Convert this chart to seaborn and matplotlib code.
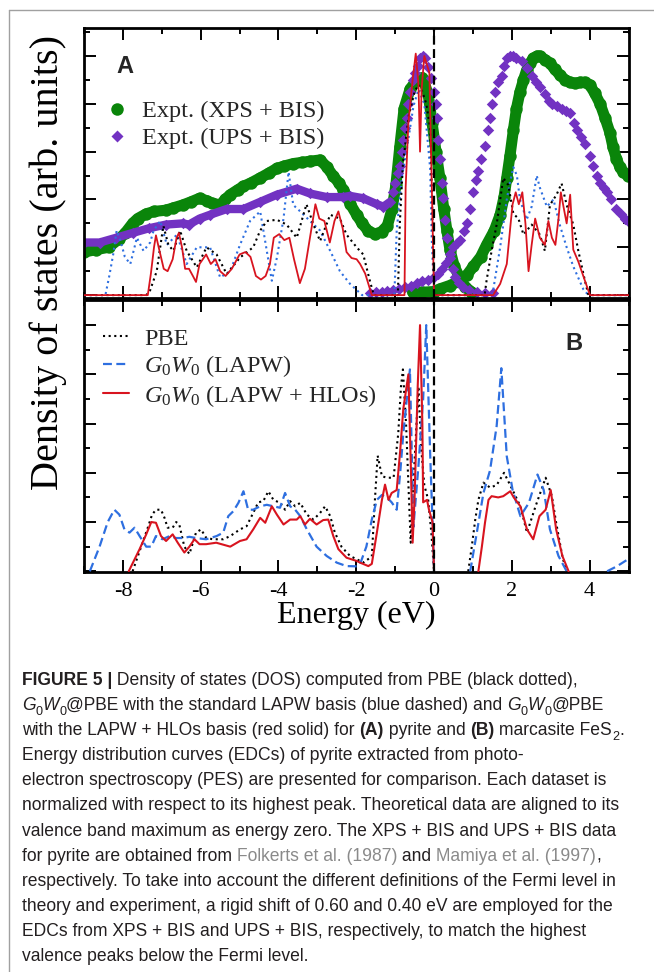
import numpy as np
import pandas as pd
import matplotlib
matplotlib.use("Agg")
import matplotlib.pyplot as plt
import seaborn as sns
from matplotlib.lines import Line2D
from matplotlib.ticker import MultipleLocator

sns.set_theme(style="ticks")
plt.rcParams["font.family"] = ["Liberation Serif", "DejaVu Serif"]
plt.rcParams["mathtext.fontset"] = "custom"
plt.rcParams["mathtext.rm"] = "Liberation Serif"
plt.rcParams["mathtext.it"] = "Liberation Serif:italic"
plt.rcParams["mathtext.bf"] = "Liberation Serif:bold"
plt.rcParams["axes.unicode_minus"] = False

# ---------------- data (energy in eV, normalized DOS) ----------------
# Panel A: experiment
xps_green = [(-9.0, 0.18), (-8.7, 0.19), (-8.37, 0.20), (-8.1, 0.235), (-7.94, 0.26), (-7.75, 0.30),
             (-7.62, 0.32), (-7.4, 0.34), (-7.19, 0.35), (-6.9, 0.355), (-6.7, 0.365), (-6.46, 0.377),
             (-6.25, 0.39), (-6.03, 0.405), (-5.85, 0.395), (-5.72, 0.385), (-5.5, 0.377), (-5.37, 0.40),
             (-5.24, 0.42), (-5.05, 0.44), (-4.9, 0.455), (-4.7, 0.47), (-4.47, 0.49), (-4.25, 0.51),
             (-4.04, 0.53), (-3.85, 0.54), (-3.62, 0.55), (-3.4, 0.555), (-3.19, 0.56), (-2.93, 0.565),
             (-2.76, 0.537), (-2.6, 0.5), (-2.45, 0.47), (-2.33, 0.44), (-2.15, 0.38), (-1.99, 0.336),
             (-1.85, 0.30), (-1.7, 0.27), (-1.52, 0.255), (-1.35, 0.265), (-1.2, 0.29), (-1.08, 0.36),
             (-0.98, 0.46), (-0.88, 0.62), (-0.77, 0.78), (-0.62, 0.86), (-0.45, 0.9), (-0.3, 0.91),
             (-0.15, 0.84), (-0.05, 0.72), (0.05, 0.6), (0.15, 0.49), (0.25, 0.36), (0.33, 0.27),
             (0.41, 0.19), (0.52, 0.12), (0.67, 0.07), (0.8, 0.035), (0.95, 0.015)]
bis_green = [(-0.55, 0.012), (-0.3, 0.012), (0.0, 0.015), (0.15, 0.026), (0.4, 0.04), (0.67, 0.06),
             (0.85, 0.085), (1.01, 0.12), (1.2, 0.16), (1.35, 0.21), (1.55, 0.27), (1.7, 0.336),
             (1.8, 0.41), (1.87, 0.49), (1.95, 0.58), (2.04, 0.69), (2.12, 0.78), (2.21, 0.85),
             (2.3, 0.9), (2.38, 0.94), (2.47, 0.97), (2.55, 0.99), (2.65, 1.0), (2.72, 1.0),
             (2.85, 0.985), (2.98, 0.97), (3.1, 0.945), (3.24, 0.92), (3.37, 0.9), (3.5, 0.89),
             (3.62, 0.885), (3.75, 0.89), (3.88, 0.89), (4.0, 0.88), (4.13, 0.845), (4.27, 0.80),
             (4.4, 0.74), (4.52, 0.68), (4.6, 0.62), (4.69, 0.57), (4.78, 0.535), (4.86, 0.515),
             (4.99, 0.50)]
ups_purple_dense = [(-9.0, 0.22), (-8.6, 0.22), (-8.17, 0.24), (-7.75, 0.26), (-7.32, 0.28),
                    (-6.89, 0.295), (-6.46, 0.30), (-6.3, 0.295), (-6.03, 0.32), (-5.76, 0.336),
                    (-5.33, 0.36), (-4.9, 0.36), (-4.47, 0.39), (-4.04, 0.42), (-3.53, 0.445),
                    (-3.19, 0.425), (-2.76, 0.41), (-2.33, 0.41), (-2.16, 0.415), (-1.82, 0.405),
                    (-1.47, 0.38), (-1.3, 0.37), (-1.13, 0.39)]
ups_purple_peak = [(-1.05, 0.43), (-1.0, 0.47), (-0.93, 0.51), (-0.87, 0.54), (-0.82, 0.6),
                   (-0.79, 0.65), (-0.74, 0.7), (-0.7, 0.74), (-0.66, 0.8), (-0.62, 0.85),
                   (-0.55, 0.9), (-0.49, 0.93), (-0.42, 0.96), (-0.35, 0.99), (-0.28, 1.0),
                   (-0.22, 0.99), (-0.15, 0.955), (-0.08, 0.91), (0.0, 0.85), (0.04, 0.8),
                   (0.08, 0.74), (0.11, 0.65), (0.15, 0.57), (0.2, 0.47), (0.24, 0.405),
                   (0.28, 0.315), (0.33, 0.24), (0.41, 0.157), (0.48, 0.11), (0.54, 0.074),
                   (0.64, 0.05), (0.75, 0.033), (0.9, 0.02), (1.1, 0.012), (1.3, 0.01), (1.52, 0.01)]
bis_purple = [(-1.65, 0.01), (-1.5, 0.012), (-1.35, 0.015), (-1.2, 0.018), (-1.05, 0.022),
              (-0.9, 0.026), (-0.75, 0.032), (-0.6, 0.04), (-0.45, 0.05), (-0.3, 0.058),
              (-0.15, 0.065), (0.0, 0.074), (0.1, 0.09), (0.2, 0.11), (0.3, 0.135), (0.41, 0.17),
              (0.5, 0.2), (0.6, 0.22), (0.67, 0.23), (0.76, 0.27), (0.84, 0.30), (0.92, 0.36),
              (1.0, 0.43), (1.07, 0.48), (1.14, 0.52), (1.22, 0.57), (1.31, 0.625), (1.38, 0.69),
              (1.44, 0.74), (1.5, 0.8), (1.57, 0.85), (1.65, 0.89), (1.74, 0.915), (1.8, 0.96),
              (1.87, 0.99), (1.95, 1.0), (2.04, 1.0), (2.12, 0.99), (2.25, 0.98), (2.38, 0.95),
              (2.51, 0.915), (2.62, 0.89), (2.72, 0.87), (2.85, 0.84), (2.95, 0.81), (3.03, 0.80),
              (3.15, 0.79), (3.28, 0.78), (3.4, 0.77), (3.5, 0.76), (3.6, 0.72), (3.67, 0.69),
              (3.78, 0.66), (3.88, 0.63), (4.0, 0.58), (4.1, 0.54), (4.2, 0.5), (4.27, 0.47),
              (4.36, 0.45), (4.44, 0.43), (4.55, 0.40), (4.69, 0.36), (4.8, 0.34), (4.9, 0.32),
              (4.99, 0.31)]

# Panel A: theory
a_pbe = [(-9.0, 0.0), (-7.4, 0.0), (-7.3, 0.02), (-7.13, 0.1), (-6.96, 0.29), (-6.83, 0.21),
         (-6.7, 0.185), (-6.53, 0.27), (-6.36, 0.185), (-6.1, 0.116), (-5.85, 0.2), (-5.59, 0.17),
         (-5.33, 0.088), (-4.99, 0.157), (-4.65, 0.2), (-4.47, 0.27), (-4.3, 0.31), (-4.04, 0.315),
         (-3.79, 0.295), (-3.53, 0.24), (-3.28, 0.38), (-3.1, 0.295), (-2.93, 0.226), (-2.67, 0.336),
         (-2.42, 0.32), (-2.25, 0.253), (-1.99, 0.2), (-1.82, 0.17), (-1.65, 0.06), (-1.55, 0.0),
         (-0.93, 0.0), (-0.88, 0.3), (-0.8, 0.55), (-0.65, 0.75), (-0.5, 0.85), (-0.4, 0.88),
         (-0.3, 0.85), (-0.2, 0.8), (-0.1, 0.7), (-0.05, 0.4), (0.0, 0.0), (1.3, 0.0), (1.35, 0.06),
         (1.48, 0.185), (1.61, 0.295), (1.78, 0.49), (1.91, 0.46), (2.04, 0.34), (2.17, 0.32),
         (2.3, 0.253), (2.51, 0.295), (2.72, 0.253), (2.85, 0.185), (2.98, 0.377), (3.15, 0.42),
         (3.28, 0.467), (3.41, 0.377), (3.58, 0.295), (3.71, 0.185), (3.88, 0.06), (3.97, 0.0),
         (5.0, 0.0)]
a_lapw = [(-9.0, 0.0), (-8.45, 0.0), (-8.35, 0.08), (-8.25, 0.17), (-8.16, 0.27), (-8.05, 0.22),
          (-7.95, 0.16), (-7.81, 0.13), (-7.64, 0.24), (-7.47, 0.185), (-7.3, 0.22), (-7.21, 0.27),
          (-7.04, 0.31), (-6.87, 0.21), (-6.61, 0.253), (-6.36, 0.13), (-6.1, 0.2), (-5.76, 0.2),
          (-5.5, 0.074), (-5.24, 0.1), (-4.99, 0.21), (-4.73, 0.31), (-4.47, 0.35), (-4.3, 0.185),
          (-4.17, 0.06), (-4.04, 0.157), (-3.87, 0.32), (-3.74, 0.515), (-3.62, 0.377), (-3.44, 0.35),
          (-3.19, 0.31), (-2.93, 0.27), (-2.67, 0.185), (-2.42, 0.1), (-2.16, 0.047), (-1.85, 0.0),
          (-1.02, 0.0), (-0.96, 0.27), (-0.83, 0.49), (-0.7, 0.61), (-0.53, 0.79), (-0.4, 0.86),
          (-0.25, 0.8), (-0.1, 0.53), (-0.06, 0.24), (0.0, 0.0), (1.5, 0.0), (1.7, 0.2), (1.87, 0.4),
          (1.95, 0.47), (2.04, 0.535), (2.13, 0.5), (2.21, 0.4), (2.38, 0.315), (2.51, 0.37),
          (2.64, 0.5), (2.72, 0.45), (2.9, 0.37), (3.07, 0.4), (3.24, 0.29), (3.41, 0.2),
          (3.58, 0.12), (3.84, 0.024), (3.97, 0.0), (5.0, 0.0)]
a_hlo = [(-9.0, 0.0), (-7.36, 0.0), (-7.28, 0.09), (-7.2, 0.2), (-7.15, 0.25), (-7.08, 0.2),
         (-6.95, 0.11), (-6.85, 0.1), (-6.72, 0.15), (-6.62, 0.24), (-6.56, 0.26), (-6.48, 0.2),
         (-6.4, 0.11), (-6.3, 0.11), (-6.2, 0.08), (-6.12, 0.055), (-6.03, 0.13), (-5.86, 0.17),
         (-5.74, 0.13), (-5.62, 0.15), (-5.5, 0.1), (-5.36, 0.08), (-5.2, 0.11), (-5.0, 0.17),
         (-4.85, 0.18), (-4.72, 0.16), (-4.58, 0.08), (-4.45, 0.065), (-4.33, 0.08), (-4.22, 0.13),
         (-4.12, 0.24), (-3.98, 0.255), (-3.85, 0.23), (-3.72, 0.24), (-3.6, 0.15), (-3.45, 0.05),
         (-3.32, 0.11), (-3.18, 0.25), (-3.05, 0.38), (-2.95, 0.32), (-2.82, 0.31), (-2.68, 0.22),
         (-2.56, 0.31), (-2.46, 0.35), (-2.35, 0.28), (-2.25, 0.18), (-2.12, 0.155), (-1.99, 0.15),
         (-1.9, 0.13), (-1.77, 0.09), (-1.6, 0.0), (-0.76, 0.0), (-0.73, 0.45), (-0.66, 0.72),
         (-0.55, 0.9), (-0.47, 1.01), (-0.4, 0.88), (-0.36, 0.6), (-0.32, 0.86), (-0.25, 1.0),
         (-0.12, 0.93), (-0.05, 0.4), (0.0, 0.0), (1.52, 0.0), (1.7, 0.047), (1.87, 0.13),
         (1.97, 0.3), (2.02, 0.38), (2.1, 0.43), (2.18, 0.38), (2.27, 0.43), (2.35, 0.3),
         (2.43, 0.1), (2.51, 0.21), (2.6, 0.32), (2.72, 0.24), (2.85, 0.21), (2.94, 0.31),
         (3.03, 0.24), (3.12, 0.21), (3.2, 0.32), (3.26, 0.43), (3.34, 0.36), (3.41, 0.3),
         (3.5, 0.42), (3.58, 0.19), (3.71, 0.14), (3.88, 0.06), (4.01, 0.0), (5.0, 0.0)]

# Panel B: theory (valence / conduction pieces)
b_pbe_val = [(-7.75, 0.0), (-7.53, 0.1), (-7.36, 0.177), (-7.25, 0.23), (-7.15, 0.25), (-7.02, 0.25),
             (-6.93, 0.217), (-6.85, 0.177), (-6.72, 0.177), (-6.63, 0.2), (-6.55, 0.19), (-6.42, 0.1),
             (-6.29, 0.07), (-6.12, 0.157), (-5.99, 0.17), (-5.86, 0.136), (-5.69, 0.13), (-5.42, 0.13),
             (-5.24, 0.143), (-4.99, 0.17), (-4.82, 0.183), (-4.65, 0.237), (-4.52, 0.28), (-4.39, 0.285),
             (-4.26, 0.325), (-4.13, 0.29), (-3.96, 0.278), (-3.83, 0.25), (-3.7, 0.285), (-3.57, 0.264),
             (-3.44, 0.278), (-3.27, 0.23), (-3.1, 0.21), (-2.93, 0.237), (-2.8, 0.264), (-2.67, 0.224),
             (-2.55, 0.157), (-2.38, 0.1), (-2.16, 0.062), (-1.99, 0.049), (-1.82, 0.035), (-1.6, 0.06),
             (-1.52, 0.29), (-1.45, 0.47), (-1.34, 0.386), (-1.21, 0.38), (-1.04, 0.38), (-0.92, 0.56),
             (-0.85, 0.75), (-0.8, 0.82), (-0.72, 0.6), (-0.6, 0.116), (-0.5, 0.45), (-0.4, 0.75),
             (-0.33, 0.5), (-0.25, 0.35), (-0.15, 0.29), (-0.07, 0.157), (0.0, 0.0)]
b_pbe_con = [(0.88, 0.0), (0.97, 0.1), (1.06, 0.21), (1.14, 0.29), (1.27, 0.36), (1.44, 0.34),
             (1.61, 0.35), (1.8, 0.4), (2.02, 0.33), (2.22, 0.264), (2.39, 0.157), (2.61, 0.264),
             (2.87, 0.38), (3.03, 0.305), (3.14, 0.197), (3.3, 0.06), (3.4, 0.0)]
b_lapw_val = [(-8.85, 0.0), (-8.6, 0.1), (-8.39, 0.2), (-8.22, 0.25), (-8.09, 0.23), (-7.96, 0.17),
              (-7.83, 0.157), (-7.7, 0.177), (-7.57, 0.143), (-7.4, 0.1), (-7.27, 0.1), (-7.15, 0.143),
              (-6.98, 0.13), (-6.8, 0.143), (-6.63, 0.135), (-6.46, 0.135), (-6.29, 0.14), (-6.12, 0.135),
              (-5.86, 0.13), (-5.59, 0.143), (-5.42, 0.157), (-5.29, 0.224), (-5.16, 0.244),
              (-5.03, 0.278), (-4.9, 0.325), (-4.78, 0.25), (-4.65, 0.25), (-4.47, 0.264), (-4.3, 0.27),
              (-4.13, 0.264), (-3.96, 0.258), (-3.83, 0.318), (-3.7, 0.264), (-3.57, 0.25),
              (-3.44, 0.224), (-3.27, 0.17), (-3.02, 0.1), (-2.76, 0.062), (-2.5, 0.035), (-2.25, 0.021),
              (-1.99, 0.02), (-1.9, 0.03), (-1.74, 0.1), (-1.6, 0.21), (-1.47, 0.29), (-1.34, 0.31),
              (-1.21, 0.3), (-1.09, 0.28), (-0.96, 0.25), (-0.87, 0.4), (-0.79, 0.56), (-0.7, 0.7),
              (-0.62, 0.82), (-0.53, 0.18), (-0.4, 0.43), (-0.28, 0.7), (-0.2, 1.0), (-0.1, 0.48),
              (-0.03, 0.157), (0.0, 0.0)]
b_lapw_con = [(0.93, 0.0), (1.1, 0.157), (1.27, 0.318), (1.44, 0.41), (1.61, 0.59), (1.73, 0.825),
              (1.87, 0.467), (2.02, 0.33), (2.22, 0.224), (2.44, 0.278), (2.66, 0.393), (2.82, 0.33),
              (2.98, 0.17), (3.2, 0.062), (3.41, 0.0)]
b_lapw_high = [(4.45, 0.0), (4.7, 0.02), (5.0, 0.05)]
b_hlo_val = [(-7.85, 0.0), (-7.57, 0.09), (-7.4, 0.15), (-7.27, 0.2), (-7.15, 0.197), (-7.02, 0.143),
             (-6.89, 0.123), (-6.72, 0.15), (-6.59, 0.116), (-6.42, 0.076), (-6.29, 0.1), (-6.16, 0.13),
             (-6.03, 0.11), (-5.86, 0.11), (-5.6, 0.116), (-5.24, 0.1), (-4.99, 0.123), (-4.82, 0.13),
             (-4.65, 0.17), (-4.47, 0.217), (-4.34, 0.197), (-4.17, 0.264), (-4.04, 0.23), (-3.87, 0.19),
             (-3.7, 0.21), (-3.53, 0.21), (-3.44, 0.224), (-3.32, 0.19), (-3.19, 0.213), (-3.02, 0.19),
             (-2.85, 0.208), (-2.72, 0.21), (-2.59, 0.143), (-2.46, 0.09), (-2.25, 0.055), (-1.99, 0.042),
             (-1.9, 0.035), (-1.69, 0.021), (-1.6, 0.03), (-1.47, 0.157), (-1.34, 0.29), (-1.26, 0.352),
             (-1.17, 0.29), (-1.09, 0.318), (-0.96, 0.33), (-0.87, 0.49), (-0.79, 0.66), (-0.66, 0.80),
             (-0.6, 0.45), (-0.55, 0.116), (-0.5, 0.3), (-0.42, 0.75), (-0.36, 1.0), (-0.3, 0.6),
             (-0.28, 0.28), (-0.18, 0.29), (-0.13, 0.25), (-0.04, 0.2), (0.0, 0.0)]
b_hlo_con = [(1.14, 0.0), (1.23, 0.1), (1.31, 0.197), (1.4, 0.29), (1.48, 0.305), (1.65, 0.3),
             (1.78, 0.305), (1.96, 0.325), (2.05, 0.30), (2.22, 0.264), (2.39, 0.17), (2.55, 0.13),
             (2.71, 0.224), (2.87, 0.25), (3.0, 0.33), (3.14, 0.17), (3.3, 0.062), (3.46, 0.0)]

xtick_values = [-8, -6, -4, -2, 0, 2, 4]
legend_a = ["Expt. (XPS + BIS)", "Expt. (UPS + BIS)"]
legend_b = ["PBE", r"$G_0W_0$ (LAPW)", r"$G_0W_0$ (LAPW + HLOs)"]

# ---------------- styles ----------------
GREEN = "#0a850a"
PURPLE = "#7232c2"
RED = "#d8141f"
BLUE = "#2e6fe0"
DOT = (0, (1, 1.7))
DASH = (0, (4, 2))

W, H = 654, 972
fig = plt.figure(figsize=(W / 100, H / 100), dpi=100)
fig.patch.set_facecolor("white")


def fx(px):
    return px / W


def fy(py):
    return 1 - py / H


axA = fig.add_axes([fx(84), fy(297.5), 544.5 / W, 269 / H])
axB = fig.add_axes([fx(84), fy(572), 544.5 / W, 271.5 / H])


def to_df(*segs):
    frames = []
    for i, seg in enumerate(segs):
        e, v = zip(*seg)
        frames.append(pd.DataFrame({"E": e, "v": v, "seg": i}))
    return pd.concat(frames, ignore_index=True)


def draw_curve(ax, segs, **kw):
    sns.lineplot(data=to_df(*segs), x="E", y="v", units="seg", estimator=None,
                 sort=False, ax=ax, legend=False, **kw)


def draw_points(ax, seg, **kw):
    d = to_df(seg)
    sns.scatterplot(data=d, x="E", y="v", ax=ax, legend=False, linewidth=0, **kw)


# ---- panel A ----
draw_curve(axA, [xps_green], color=GREEN, lw=8, solid_capstyle="round", zorder=2)
draw_points(axA, xps_green, color=GREEN, marker="o", s=80, zorder=2.1)
draw_curve(axA, [bis_green], color=GREEN, lw=8, solid_capstyle="round", zorder=2)
draw_points(axA, bis_green, color=GREEN, marker="o", s=80, zorder=2.1)
draw_curve(axA, [ups_purple_dense], color=PURPLE, lw=6, solid_capstyle="round", zorder=2.2)
draw_points(axA, ups_purple_dense, color=PURPLE, marker="D", s=34, zorder=2.3)
draw_points(axA, ups_purple_peak, color=PURPLE, marker="D", s=34, zorder=2.3)
draw_points(axA, bis_purple, color=PURPLE, marker="D", s=34, zorder=2.3)

draw_curve(axA, [a_lapw], color=BLUE, lw=1.5, linestyle=DOT, zorder=3)
draw_curve(axA, [a_pbe], color="black", lw=1.5, linestyle=DOT, zorder=3.1)
draw_curve(axA, [a_hlo], color=RED, lw=1.3, zorder=3.2)

# ---- panel B ----
draw_curve(axB, [b_pbe_val, b_pbe_con], color="black", lw=1.5, linestyle=DOT, zorder=3)
draw_curve(axB, [b_lapw_val, b_lapw_con, b_lapw_high], color=BLUE, lw=1.6, linestyle=DASH, zorder=3.1)
draw_curve(axB, [b_hlo_val, b_hlo_con], color=RED, lw=1.5, zorder=3.2)

for ax, ylim in ((axA, (-0.01, 1.115)), (axB, (-0.003, 1.10))):
    ax.axvline(0, color="black", lw=1.6, linestyle=DASH, zorder=4)
    ax.set_xlim(-9, 5)
    ax.set_ylim(*ylim)
    ax.xaxis.set_major_locator(MultipleLocator(2))
    ax.xaxis.set_minor_locator(MultipleLocator(1))
    ax.yaxis.set_major_locator(MultipleLocator(0.2))
    ax.yaxis.set_minor_locator(MultipleLocator(0.1))
    ax.tick_params(which="both", direction="in", top=True, right=True, left=True, bottom=True,
                   width=1.4, color="black", labelleft=False)
    ax.tick_params(which="major", length=8.5)
    ax.tick_params(which="minor", length=4.5)
    for sp in ax.spines.values():
        sp.set_linewidth(2.0)
        sp.set_color("black")
    ax.set_xlabel("")
    ax.set_ylabel("")
    ax.set_facecolor("white")

axA.tick_params(labelbottom=False)
axB.set_xticks(xtick_values)
axB.set_xticklabels([str(v) for v in xtick_values])
axB.tick_params(axis="x", labelsize=16, pad=7, labelcolor="black")
axB.set_xlabel("Energy (eV)", fontsize=23, color="black")
axB.xaxis.label.set_va("baseline")
axB.xaxis.set_label_coords(0.5, -(623 - 572) / 271.5)

fig.text(fx(48), fy(262), "Density of states (arb. units)", rotation=90,
         ha="center", va="center", fontsize=29, color="black")

# panel letters
axA.text((125 - 84) / 544.5, (297.5 - 73.3) / 269, "A", transform=axA.transAxes,
         ha="center", va="baseline", fontsize=17, fontweight="bold",
         family=["Liberation Sans", "DejaVu Sans"])
axB.text((574 - 84) / 544.5, (572 - 350) / 271.5, "B", transform=axB.transAxes,
         ha="center", va="baseline", fontsize=17, fontweight="bold",
         family=["Liberation Sans", "DejaVu Sans"])

# legends
ha = [Line2D([], [], ls="", marker="o", ms=9, color=GREEN, mec="none"),
      Line2D([], [], ls="", marker="D", ms=6.3, color=PURPLE, mec="none")]
axA.legend(ha, legend_a, loc="upper left", bbox_to_anchor=(0.04, 0.733), frameon=False,
           fontsize=17.5, handlelength=0.9, handletextpad=0.58, borderpad=0, borderaxespad=0,
           labelspacing=0.2)
hb = [Line2D([], [], color="black", lw=1.5, linestyle=DOT),
      Line2D([], [], color=BLUE, lw=1.6, linestyle=DASH),
      Line2D([], [], color=RED, lw=1.5)]
axB.legend(hb, legend_b, loc="upper left", bbox_to_anchor=(0.035, 0.9), frameon=False,
           fontsize=17.5, handlelength=1.07, handletextpad=0.62, borderpad=0, borderaxespad=0,
           labelspacing=0.15)

# outer frame lines
fig.add_artist(Line2D([fx(9), 1.0], [fy(10), fy(10)], color="#a0a0a0", lw=1.0))
fig.add_artist(Line2D([fx(9), fx(9)], [fy(10), 0.0], color="#a0a0a0", lw=1.0))

# ---------------- caption ----------------
cap_lines = [
    [("FIGURE 5 |", "b"), (" Density of states (DOS) computed from PBE (black dotted),", "n")],
    [("G", "i"), ("0", "s"), ("W", "i"), ("0", "s"), ("@PBE with the standard LAPW basis (blue dashed) and ", "n"),
     ("G", "i"), ("0", "s"), ("W", "i"), ("0", "s"), ("@PBE", "n")],
    [("with the LAPW + HLOs basis (red solid) for ", "n"), ("(A)", "b"), (" pyrite and ", "n"),
     ("(B)", "b"), (" marcasite FeS", "n"), ("2", "s"), (".", "n")],
    [("Energy distribution curves (EDCs) of pyrite extracted from photo-", "n")],
    [("electron spectroscopy (PES) are presented for comparison. Each dataset is", "n")],
    [("normalized with respect to its highest peak. Theoretical data are aligned to its", "n")],
    [("valence band maximum as energy zero. The XPS + BIS and UPS + BIS data", "n")],
    [("for pyrite are obtained from ", "n"), ("Folkerts et al. (1987)", "g"), (" and ", "n"),
     ("Mamiya et al. (1997)", "g"), (",", "n")],
    [("respectively. To take into account the different definitions of the Fermi level in", "n")],
    [("theory and experiment, a rigid shift of 0.60 and 0.40 eV are employed for the", "n")],
    [("EDCs from XPS + BIS and UPS + BIS, respectively, to match the highest", "n")],
    [("valence peaks below the Fermi level.", "n")],
]

renderer = fig.canvas.get_renderer()
CAP_FAMILY = ["Liberation Sans", "DejaVu Sans"]
TXT = "#231f20"


def style_props(key, fs):
    p = dict(family=CAP_FAMILY, fontsize=fs, color=TXT)
    if key == "b":
        p["fontweight"] = "bold"
    elif key == "i":
        p["fontstyle"] = "italic"
    elif key == "g":
        p["color"] = "#8a8a8a"
    elif key == "s":
        p["fontsize"] = fs * 0.72
    return p


def measure(s, props):
    t = fig.text(0, 0, s, **props)
    w = t.get_window_extent(renderer).width
    t.remove()
    return w


def advance(s, props):
    # width including leading/trailing spaces, measured between two bars
    return measure("|" + s + "|", props) - measure("||", props)


def layout(fs, draw=False, x0=22.0, y0=685.0, dy=25.1):
    widths = []
    for li, line in enumerate(cap_lines):
        x = x0
        yb = y0 + li * dy
        for text, key in line:
            props = style_props(key, fs)
            yy = yb + (0.28 * fs * 100 / 72 if key == "s" else 0)
            if draw:
                fig.text(fx(x), fy(yy), text, ha="left", va="baseline", **props)
            x += advance(text, props)
        widths.append(x - x0)
    return widths


base = 12.0
ws = layout(base)
fs = base * 605.0 / max(ws)
layout(fs, draw=True)

fig.savefig("out.png", dpi=100, facecolor="white")
